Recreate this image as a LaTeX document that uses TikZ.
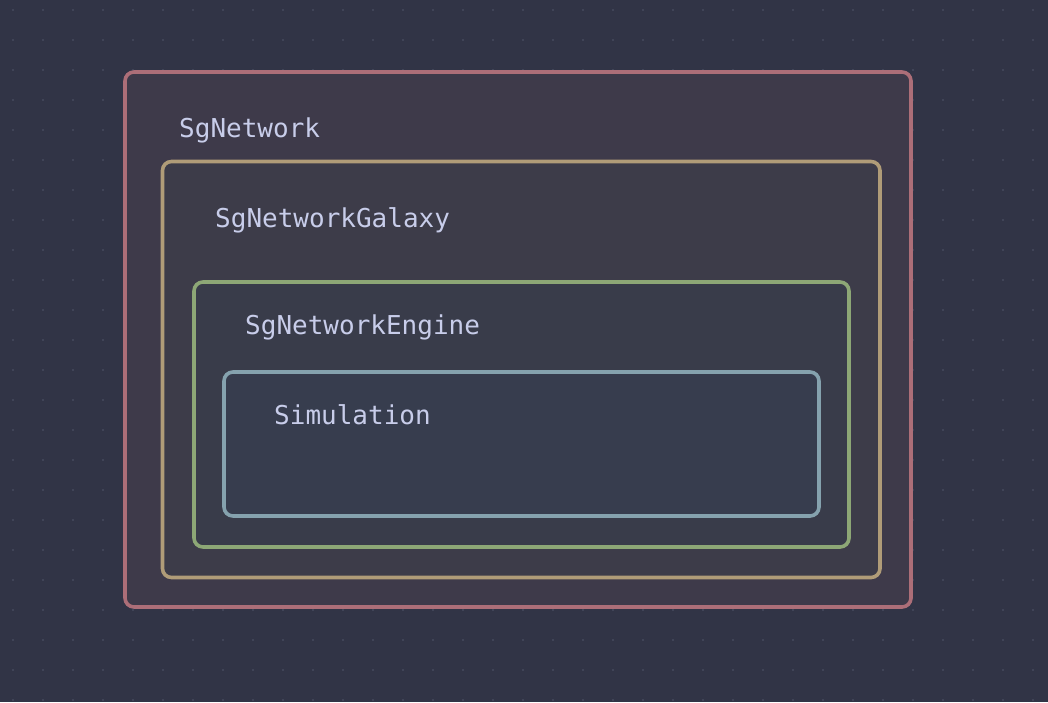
\documentclass[tikz,border=0pt]{standalone}
\usepackage{fontspec}
\setmonofont{DejaVu Sans Mono}
\usetikzlibrary{positioning}

\definecolor{canvas}{HTML}{313446}
\definecolor{dotgrey}{HTML}{464a5e}
\definecolor{labeltext}{HTML}{C8CDEA}
\definecolor{netred}{HTML}{AC6E78}
\definecolor{netfill}{HTML}{3E3A4A}
\definecolor{galtan}{HTML}{B09C78}
\definecolor{galfill}{HTML}{3D3C49}
\definecolor{enggreen}{HTML}{8DA776}
\definecolor{engfill}{HTML}{393C4A}
\definecolor{simblue}{HTML}{85A2AE}
\definecolor{simfill}{HTML}{373D4E}

\begin{document}
\begin{tikzpicture}[
		x=1pt, y=-1pt
		,layer/.style={rectangle, draw, line width=3.6pt, rounded corners=9pt, anchor=north west, inner sep=0pt, outer sep=0pt}
		,title/.style={anchor=base west, inner sep=0pt, text=labeltext, font=\ttfamily\fontsize{26}{30}\selectfont}
	]
		\fill [canvas] (0,0) rectangle (1048,702);
		\useasboundingbox (0,0) rectangle (1048,702);
		% dotted grid
		\foreach \i in {0,...,34}
			\foreach \j in {0,...,23}
				\fill [dotgrey] (13+30*\i,10+30*\j) circle (1.2);

		\node [layer, draw=netred, fill=netfill, minimum width=786, minimum height=535] (net) at (125,72) {};
		\node [title] (netlabel) at (179,137) {SgNetwork};

		\node [layer, draw=galtan, fill=galfill, minimum width=717.5, minimum height=416] (galaxy) at (162.5,161.5) {};
		\node [title] (galaxylabel) at (215,227) {SgNetworkGalaxy};

		\node [layer, draw=enggreen, fill=engfill, minimum width=655, minimum height=265] (engine) at (194,282) {};
		\node [title] (enginelabel) at (245,334) {SgNetworkEngine};

		\node [layer, draw=simblue, fill=simfill, minimum width=595, minimum height=144] (sim) at (224,372) {};
		\node [title] (simlabel) at (274,424) {Simulation};
	\end{tikzpicture}
\end{document}
